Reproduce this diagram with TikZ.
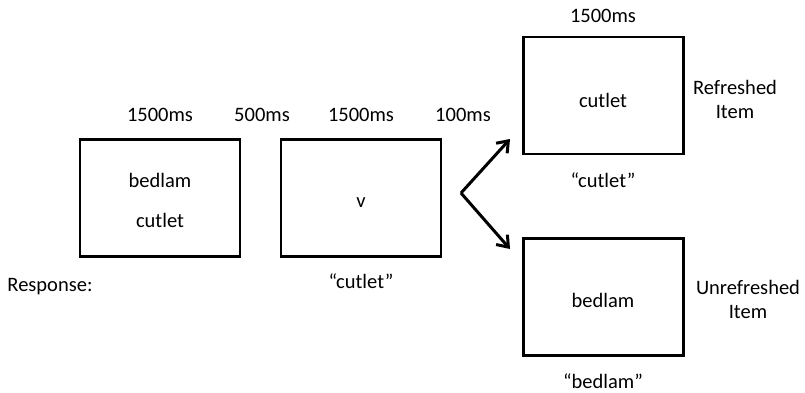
\documentclass[tikz,border=0pt]{standalone}
\usepackage{fontspec}
\setmainfont{Carlito}
\usetikzlibrary{arrows.meta}
\begin{document}
\begin{tikzpicture}[x=1pt,y=-1pt,
  box/.style={draw=black,line width=2.2pt,minimum width=160pt,minimum height=117pt,inner sep=0pt},
  lbl/.style={font=\fontsize{20.5}{24}\selectfont,inner sep=0pt,anchor=center},
  arr/.style={line width=3pt,-{Straight Barb[length=10pt,width=15pt,line width=3pt]}}]
\useasboundingbox (0,0) rectangle (805,392);
\node[box] (b1) at (160,198) {};
\node[box] (b2) at (361,198) {};
\node[box] (b3) at (603.5,95.5) {};
\node[box] (b4) at (603.5,297) {};
\node[lbl] (t1) at (160,115) {1500ms};
\node[lbl] (t2) at (262,115) {500ms};
\node[lbl] (t3) at (361,115) {1500ms};
\node[lbl] (t4) at (463,115) {100ms};
\node[lbl] (t5) at (603,16) {1500ms};
\node[lbl] (w1) at (160,180) {bedlam};
\node[lbl] (w2) at (160,220) {cutlet};
\node[lbl] (w3) at (361,203) {v};
\node[lbl] (w4) at (603,100) {cutlet};
\node[lbl] (w5) at (603,300) {bedlam};
\node[lbl] (resp) at (50,287) {Response:};
\node[lbl] (r1) at (361,281) {“cutlet”};
\node[lbl] (r2) at (603,180) {“cutlet”};
\node[lbl] (r3) at (603,381) {“bedlam”};
\node[lbl,align=center,font=\fontsize{20.5}{24}\selectfont] (l1) at (735,99) {Refreshed\\Item};
\node[lbl,align=center,font=\fontsize{20.5}{24}\selectfont] (l2) at (748,299) {Unrefreshed\\Item};
\coordinate (apex) at (461,193);
\coordinate (tipu) at (510,139);
\coordinate (tipd) at (510,249);
\draw[arr] (apex) -- (tipu);
\draw[arr] (apex) -- (tipd);
\end{tikzpicture}
\end{document}
